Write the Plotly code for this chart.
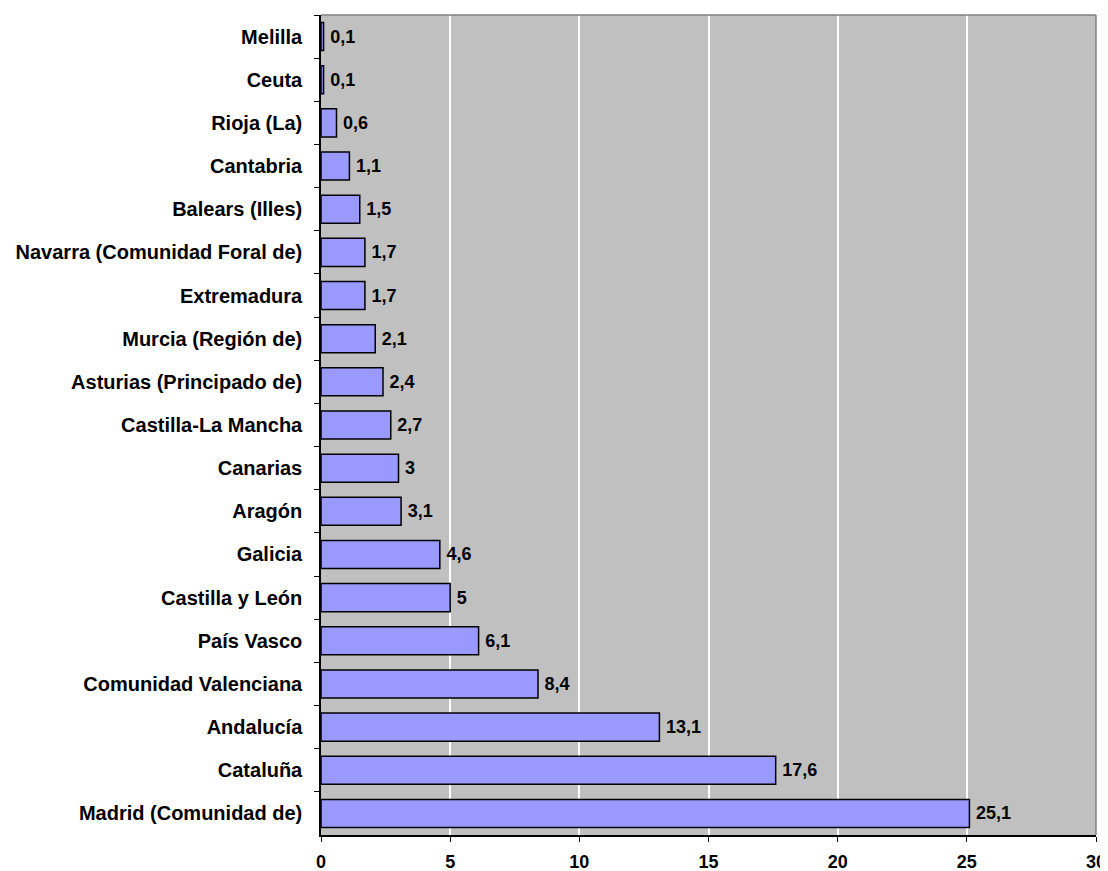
import plotly.graph_objects as go

regions = ["Melilla", "Ceuta", "Rioja (La)", "Cantabria", "Balears (Illes)",
           "Navarra (Comunidad Foral de)", "Extremadura", "Murcia (Región de)",
           "Asturias (Principado de)", "Castilla-La Mancha", "Canarias", "Aragón",
           "Galicia", "Castilla y León", "País Vasco", "Comunidad Valenciana",
           "Andalucía", "Cataluña", "Madrid (Comunidad de)"]
values = [0.1, 0.1, 0.6, 1.1, 1.5, 1.7, 1.7, 2.1, 2.4, 2.7, 3, 3.1,
          4.6, 5, 6.1, 8.4, 13.1, 17.6, 25.1]
x_ticks = [0, 5, 10, 15, 20, 25, 30]

labels = ["\u2009" + (f"{v:g}").replace(".", ",") for v in values]

FONT = "Liberation Sans, Arial, sans-serif"

fig = go.Figure(go.Bar(
    y=regions, x=values, orientation="h",
    marker=dict(color="#9999FF", line=dict(color="black", width=1.5)),
    text=labels, textposition="outside", cliponaxis=False,
    textfont=dict(family=FONT, size=18, color="black", weight="bold"),
    width=0.65,
))

fig.update_layout(
    width=1100, height=863,
    margin=dict(l=313, r=12, t=7, b=36, autoexpand=False),
    paper_bgcolor="white", plot_bgcolor="#C0C0C0",
    font=dict(family=FONT, size=18, color="black", weight="bold"),
    showlegend=False,
    shapes=[
        dict(type="line", xref="paper", yref="paper", x0=0, x1=1, y0=1, y1=1,
             line=dict(color="#808080", width=1.5)),
        dict(type="line", xref="paper", yref="paper", x0=1, x1=1, y0=0, y1=1,
             line=dict(color="#808080", width=1.5)),
    ],
)
fig.update_xaxes(
    range=[0, 30], tickvals=x_ticks, showgrid=True, gridcolor="white", gridwidth=1.5,
    zeroline=False, showline=True, linecolor="black", linewidth=1.5,
    ticks="outside", ticklen=5, tickcolor="black", ticklabelstandoff=5,
    automargin=False,
    tickfont=dict(family=FONT, size=18, weight="bold"),
)
fig.update_yaxes(
    autorange="reversed", showgrid=False, showline=True, linecolor="black", linewidth=1.5,
    ticks="outside", ticklen=5, tickcolor="black", tickson="boundaries",
    ticklabelstandoff=13, automargin=False,
    tickfont=dict(family=FONT, size=20, weight="bold"),
)

fig.write_html("out.html")
